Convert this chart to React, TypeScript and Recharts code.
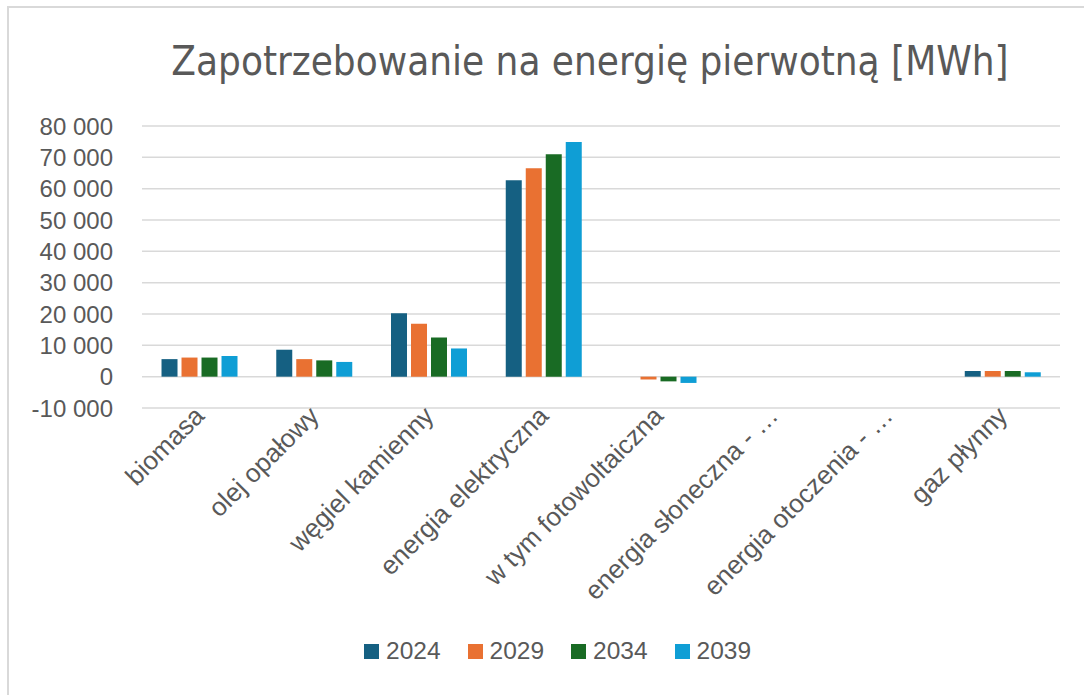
import React from 'react';
import { BarChart, Bar, XAxis, YAxis, CartesianGrid, Legend } from 'recharts';

const categories = [
  'biomasa',
  'olej opałowy',
  'węgiel kamienny',
  'energia elektryczna',
  'w tym fotowoltaiczna',
  'energia słoneczna - …',
  'energia otoczenia - …',
  'gaz płynny',
];

const years = ['2024', '2029', '2034', '2039'];
const values2024 = [5600, 8600, 20200, 62700, 0, 0, 0, 1800];
const values2029 = [6100, 5600, 16900, 66500, -900, 0, 0, 1800];
const values2034 = [6100, 5200, 12500, 71000, -1500, 0, 0, 1800];
const values2039 = [6600, 4700, 9000, 74900, -2000, 0, 0, 1400];
const yTicks = [-10000, 0, 10000, 20000, 30000, 40000, 50000, 60000, 70000, 80000];

const colors = ['#156082', '#E97132', '#196B24', '#0F9ED5'];
const textColor = '#595959';
const font = "'Liberation Sans', Arial, sans-serif";

// one row per category, keyed by year
const data = categories.map((name, i) => ({
  name,
  '2024': values2024[i],
  '2029': values2029[i],
  '2034': values2034[i],
  '2039': values2039[i],
}));

const formatTick = (v: number) => {
  const s = Math.abs(v).toString().replace(/\B(?=(\d{3})+(?!\d))/g, ' ');
  return (v < 0 ? '-' : '') + s;
};

const AngledTick = (props: any) => {
  const { x, y, payload } = props;
  return (
    <text
      x={x}
      y={y}
      dy="0.35em"
      transform={`rotate(-45 ${x} ${y})`}
      textAnchor="end"
      fill={textColor}
      fontSize={26}
      fontFamily={font}
    >
      {payload.value}
    </text>
  );
};

const LegendContent = (props: any) => {
  const { payload } = props;
  return (
    <div style={{ display: 'flex', alignItems: 'center', height: 30 }}>
      {(payload || []).map((entry: any) => (
        <div key={entry.value} style={{ display: 'flex', alignItems: 'center', marginRight: 27 }}>
          <div style={{ width: 15, height: 15, backgroundColor: entry.color, marginRight: 7 }} />
          <span style={{ fontSize: 24.5, fontFamily: font, color: textColor }}>{entry.value}</span>
        </div>
      ))}
    </div>
  );
};

const App: React.FC = () => {
  return (
    <div style={{ position: 'absolute', left: 0, top: 0, width: 1084, height: 695, background: '#fff' }}>
      <div
        style={{
          position: 'absolute',
          left: 7,
          top: 6,
          width: 1100,
          height: 700,
          borderTop: '2px solid #d9d9d9',
          borderLeft: '2px solid #d9d9d9',
        }}
      />
      <div
        style={{
          position: 'absolute',
          left: 0,
          top: 38,
          width: 1180,
          textAlign: 'center',
          fontSize: 40,
          fontFamily: "'Liberation Sans Narrow', 'DejaVu Sans Condensed', sans-serif",
          fontStretch: 'condensed',
          color: textColor,
          whiteSpace: 'nowrap',
        }}
      >
        Zapotrzebowanie na energię pierwotną [MWh]
      </div>
      <div style={{ position: 'absolute', left: 0, top: 0 }}>
        <BarChart
          width={1084}
          height={695}
          data={data}
          margin={{ top: 126, right: 24, bottom: 0, left: 0 }}
          barCategoryGap="17%"
          barGap={4}
        >
          <CartesianGrid vertical={false} stroke="#d9d9d9" strokeWidth={1.5} />
          <XAxis
            dataKey="name"
            interval={0}
            height={287}
            axisLine={false}
            tickLine={false}
            tickSize={0}
            tickMargin={3}
            tick={<AngledTick />}
          />
          <YAxis
            domain={[-10000, 80000]}
            ticks={yTicks}
            interval={0}
            tickFormatter={formatTick}
            width={142}
            axisLine={false}
            tickLine={false}
            tickSize={0}
            tickMargin={29}
            tick={{ fill: textColor, fontSize: 24, fontFamily: font }}
          />
          <Legend
            layout="horizontal"
            verticalAlign="middle"
            align="center"
            content={<LegendContent />}
            wrapperStyle={{ left: 364, top: 636, width: 500, height: 30 }}
          />
          {years.map((year, i) => (
            <Bar key={year} dataKey={year} fill={colors[i]} isAnimationActive={false} />
          ))}
        </BarChart>
      </div>
    </div>
  );
};

export default App;
